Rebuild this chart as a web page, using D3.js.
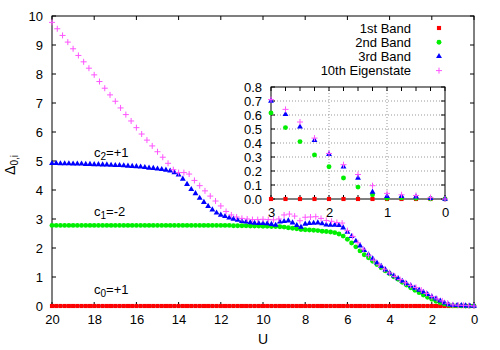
<!DOCTYPE html>
<html>
<head>
<meta charset="utf-8">
<script src="https://cdn.jsdelivr.net/npm/d3@7"></script>
<style>
body { margin: 0; background: #fff; }
text { font-family: "Liberation Sans", Arial, sans-serif; fill: #000; }
</style>
</head>
<body>
<div id="chart"></div>
<script>
const w = 500;
const h = 350;

// U grid of the bands (step 0.2) and of the eigenstate (step 0.25)
const bandU = d3.range(101).map(i => +(20 - i * 0.2).toFixed(1));
const eigenU = d3.range(81).map(i => 20 - i * 0.25);

const band1 = [
    0,0,0,0,0,0,0,0,0,0,0,0,0,0,0,0,0,0,0,0,
    0,0,0,0,0,0,0,0,0,0,0,0,0,0,0,0,0,0,0,0,
    0,0,0,0,0,0,0,0,0,0,0,0,0,0,0,0,0,0,0,0,
    0,0,0,0,0,0,0,0,0,0,0,0,0,0,0,0,0,0,0,0,
    0,0,0,0,0,0,0,0,0,0,0,0,0,0,0,0,0,0,0,0,
    0
];
const band2 = [
    2.78,2.78,2.78,2.78,2.78,2.78,2.78,2.78,2.78,2.78,
    2.78,2.78,2.78,2.78,2.78,2.78,2.78,2.78,2.78,2.78,
    2.78,2.78,2.78,2.78,2.78,2.78,2.78,2.78,2.78,2.78,
    2.78,2.78,2.78,2.78,2.78,2.78,2.78,2.78,2.78,2.78,
    2.78,
    2.78,2.78,2.77,2.77,2.77,2.77,2.76,2.76,2.76,2.75,
    2.75,2.74,2.74,2.73,2.72,2.70,2.68,2.66,2.64,2.63,
    2.62,2.61,2.60,2.58,2.57,2.55,2.53,2.48,2.41,2.30,
    2.17,2.04,1.90,1.77,1.66,1.54,1.43,1.32,1.21,1.11,
    1.01,0.92,0.82,0.72,0.63,0.54,0.46,0.38,0.30,0.23,
    0.165,0.11,0.065,0.03,0.01,0.01,0.005,0,0,0
];
const band3 = [
    4.92,4.92,4.91,4.91,4.91,4.90,4.90,4.90,4.89,4.89,
    4.88,4.88,4.87,4.87,4.86,4.85,4.85,4.84,4.83,4.82,
    4.81,4.80,4.78,4.76,4.75,4.73,4.71,4.69,4.66,4.60,
    4.52,4.38,4.20,4.02,3.88,3.72,3.58,3.44,3.32,3.21,
    3.14,3.09,3.04,3.00,2.96,2.92,2.90,2.88,2.86,2.85,
    2.85,
    2.84,2.82,2.79,2.90,2.92,2.94,2.87,2.78,2.72,2.83,
    2.85,2.86,2.87,2.84,2.80,2.79,2.79,2.78,2.70,2.55,
    2.40,2.24,2.08,1.92,1.77,1.63,1.49,1.37,1.25,1.14,
    1.04,0.95,0.86,0.77,0.70,0.62,0.55,0.48,0.40,0.32,
    0.25,0.18,0.11,0.05,0.02,0.02,0.018,0.01,0.005,0
];
const eigen10 = [
    9.78,9.56,9.33,9.10,8.87,8.64,8.42,8.20,7.97,
    7.74,7.51,7.28,7.06,6.83,6.60,6.38,6.15,
    5.93,5.72,5.52,5.32,5.13,4.92,4.70,4.60,
    4.60,4.55,4.33,4.15,3.97,3.79,3.62,3.45,
    3.26,3.14,3.07,3.02,3.00,2.98,2.98,2.99,
    2.98,2.97,3.00,3.14,3.17,3.10,2.94,3.06,
    3.07,3.08,3.02,2.95,2.92,2.88,2.86,2.60,
    2.40,2.18,1.96,1.75,1.58,1.42,1.27,1.14,
    1.02,0.91,0.80,0.71,0.64,0.55,0.435,0.325,
    0.245,0.175,0.095,0.04,0.03,0.025,0.01,0
];

// inset, U from 3 down to 0
const insetU = [3, 2.75, 2.5, 2.25, 2, 1.75, 1.5, 1.25, 1, 0.75, 0.5, 0.25, 0];
const inset1 = [0, 0, 0, 0, 0, 0, 0, 0, 0, 0, 0, 0, 0];
const inset2 = [0.615, 0.51, 0.41, 0.315, 0.23, 0.15, 0.085, 0.03, 0.005, 0.008, 0.005, 0.002, 0];
const inset3 = [0.70, 0.605, 0.515, 0.42, 0.32, 0.23, 0.15, 0.05, 0.02, 0.02, 0.015, 0.005, 0];
const inset10 = [0.71, 0.64, 0.55, 0.435, 0.325, 0.245, 0.175, 0.095, 0.04, 0.03, 0.025, 0.01, 0];

const legendNames = ["1st Band", "2nd Band", "3rd Band", "10th Eigenstate"];
const xTicks = [20, 18, 16, 14, 12, 10, 8, 6, 4, 2, 0];
const yTicks = [0, 1, 2, 3, 4, 5, 6, 7, 8, 9, 10];
const insetXTicks = [3, 2, 1, 0];
const insetYTicks = [0, 0.1, 0.2, 0.3, 0.4, 0.5, 0.6, 0.7, 0.8];

const kinds = [
    {shape: d3.symbol(d3.symbolSquare, 17)(), fill: "#ff0000"},
    {shape: d3.symbol(d3.symbolCircle, 19)(), fill: "#00ee00"},
    {shape: d3.symbol(d3.symbolTriangle, 15)(), fill: "#0000ff"},
    {shape: "M-3,0H3M0,-3V3", stroke: "#ff55ff"}
];

const svg = d3.select("#chart").append("svg").attr("width", w).attr("height", h);

const x = d3.scaleLinear().domain([20, 0]).range([52, 474]);
const y = d3.scaleLinear().domain([0, 10]).range([306, 16]);

function frame(g, xs, ys, xt, yt, xMinor, yMinor, fmt) {
    const [x0, x1] = xs.range();
    const [y0, y1] = ys.range();
    g.append("g").attr("transform", "translate(0," + y0 + ")")
        .call(d3.axisBottom(xs).tickValues(xt).tickFormat(fmt.x).tickSizeInner(0).tickSizeOuter(0).tickPadding(9));
    g.append("g").attr("transform", "translate(" + x0 + ",0)")
        .call(d3.axisLeft(ys).tickValues(yt).tickFormat(fmt.y).tickSizeInner(0).tickSizeOuter(0).tickPadding(9));
    g.selectAll(".domain").remove();
    g.selectAll(".tick text").style("font-size", "13px").attr("font-family", null);
    const t = g.append("g").attr("stroke", "#000").attr("stroke-width", 1);
    xMinor.forEach(v => {
        t.append("line").attr("x1", xs(v)).attr("x2", xs(v)).attr("y1", y0).attr("y2", y0 - 4);
        t.append("line").attr("x1", xs(v)).attr("x2", xs(v)).attr("y1", y1).attr("y2", y1 + 4);
    });
    yMinor.forEach(v => {
        t.append("line").attr("y1", ys(v)).attr("y2", ys(v)).attr("x1", x0).attr("x2", x0 + 4);
        t.append("line").attr("y1", ys(v)).attr("y2", ys(v)).attr("x1", x1).attr("x2", x1 - 4);
    });
    g.append("rect").attr("x", x0).attr("y", y1).attr("width", x1 - x0).attr("height", y0 - y1)
        .attr("fill", "none").attr("stroke", "#000").attr("stroke-width", 1);
}

function points(g, us, vs, xs, ys, k) {
    g.append("g").selectAll("path").data(vs.map((v, i) => [us[i], v])).enter().append("path")
        .attr("transform", d => "translate(" + xs(d[0]) + "," + ys(d[1]) + ")")
        .attr("d", k.shape)
        .attr("fill", k.fill || "none")
        .attr("stroke", k.stroke || "none")
        .attr("stroke-width", 1);
}

// main plot
const main = svg.append("g");
frame(main, x, y, xTicks, yTicks, xTicks, yTicks, {x: d3.format("d"), y: d3.format("d")});
points(main, bandU, band1, x, y, kinds[0]);
points(main, bandU, band2, x, y, kinds[1]);
points(main, bandU, band3, x, y, kinds[2]);
points(main, eigenU, eigen10, x, y, kinds[3]);

// axis titles
svg.append("text").attr("x", 263).attr("y", 344).attr("text-anchor", "middle")
    .style("font-size", "14px").text("U");
const yl = svg.append("text").attr("transform", "translate(15,165)rotate(-90)")
    .attr("text-anchor", "middle").style("font-size", "14px");
yl.append("tspan").text("Δ");
yl.append("tspan").attr("dy", 3).style("font-size", "10px").text("0,i");

// chern number notes
function note(xp, yp, sub, rest) {
    const t = svg.append("text").attr("x", xp).attr("y", yp).style("font-size", "13px");
    t.append("tspan").text("c");
    t.append("tspan").attr("dy", 3).style("font-size", "10px").text(sub);
    t.append("tspan").attr("dy", -3).text(rest);
}
note(94, 157, "2", "=+1");
note(94, 216, "1", "=-2");
note(94, 294, "0", "=+1");

// legend
const lg = svg.append("g");
legendNames.forEach((name, i) => {
    const ly = 28 + i * 14.2;
    lg.append("text").attr("x", 411).attr("y", ly).attr("dy", "0.35em")
        .attr("text-anchor", "end").style("font-size", "13px").text(name);
    lg.append("path").attr("transform", "translate(439," + ly + ")")
        .attr("d", kinds[i].shape)
        .attr("fill", kinds[i].fill || "none")
        .attr("stroke", kinds[i].stroke || "none");
});

// inset
const xi = d3.scaleLinear().domain([3, 0]).range([271, 445]);
const yi = d3.scaleLinear().domain([0, 0.8]).range([199, 87]);
const inset = svg.append("g");
inset.append("rect").attr("x", 271).attr("y", 87).attr("width", 174).attr("height", 112).attr("fill", "#fff");
const grid = inset.append("g").attr("stroke", "#999").attr("stroke-dasharray", "1,2").attr("stroke-width", 1);
[2, 1].forEach(v => grid.append("line").attr("x1", xi(v)).attr("x2", xi(v)).attr("y1", 199).attr("y2", 87));
[0.1, 0.2, 0.3, 0.4, 0.5, 0.6, 0.7].forEach(v => grid.append("line").attr("y1", yi(v)).attr("y2", yi(v)).attr("x1", 271).attr("x2", 445));
frame(inset, xi, yi, insetXTicks, insetYTicks, insetU, insetYTicks, {x: d3.format("d"), y: d3.format(".1f")});
points(inset, insetU, inset1, xi, yi, kinds[0]);
points(inset, insetU, inset2, xi, yi, kinds[1]);
points(inset, insetU, inset3, xi, yi, kinds[2]);
points(inset, insetU, inset10, xi, yi, kinds[3]);
</script>
</body>
</html>
